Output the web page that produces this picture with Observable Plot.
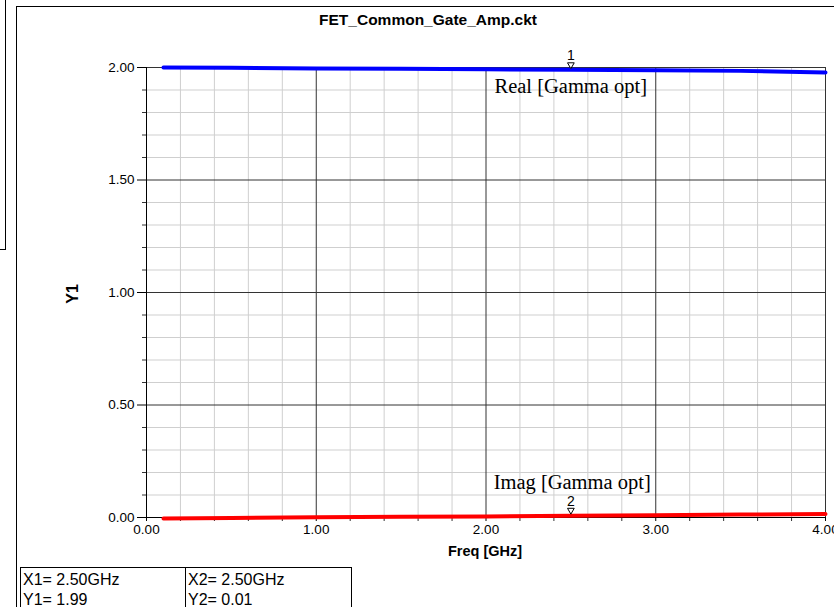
<!DOCTYPE html>
<html>
<head>
<meta charset="utf-8">
<script src="https://cdn.jsdelivr.net/npm/d3@7"></script>
<script src="https://cdn.jsdelivr.net/npm/@observablehq/plot@0.6"></script>
<style>
  html, body { margin: 0; padding: 0; background: #fff; }
  #wrap { position: relative; width: 834px; height: 607px; overflow: hidden; font-family: "Liberation Sans", Arial, sans-serif; }
  #chart { position: absolute; left: 0; top: 0; }
  .abs { position: absolute; }
  #title { left: 428px; top: 20px; transform: translate(-50%, -50%); white-space: nowrap; font-weight: bold; font-size: 15.5px; }
  #ylab { left: 73px; top: 294px; transform: translate(-50%, -50%) rotate(-90deg); font-weight: bold; font-size: 16px; }
  #xlab { left: 485px; top: 551px; transform: translate(-50%, -50%); white-space: nowrap; font-weight: bold; font-size: 14.5px; }
  #table { left: 20px; top: 567px; border: 1px solid #000; border-bottom: none; display: flex; font-size: 16px; background: #fff; }
  #table div.col { padding: 2px 2px 0 2px; line-height: 20px; height: 60px; }
  #table div.c1 { width: 160px; border-right: 1px solid #000; }
  #table div.c2 { width: 161px; }
</style>
</head>
<body>
<div id="wrap">
  <div id="chart"></div>
  <div class="abs" style="left:0;top:0;width:5px;height:249px;border-right:1px solid #000;border-bottom:1px solid #000;"></div>
  <div class="abs" style="left:16px;top:6px;width:830px;height:620px;border-left:1px solid #000;border-top:1px solid #000;"></div>
  <div class="abs" id="title">FET_Common_Gate_Amp.ckt</div>
  <div class="abs" id="ylab">Y1</div>
  <div class="abs" id="xlab">Freq [GHz]</div>
  <div class="abs" id="table">
    <div class="col c1"><div>X1= 2.50GHz</div><div>Y1= 1.99</div></div>
    <div class="col c2"><div>X2= 2.50GHz</div><div>Y2= 0.01</div></div>
  </div>
</div>
<script>
// ---- data ----
const freq = [0.1, 0.5, 1.0, 1.5, 2.0, 2.5, 3.0, 3.5, 4.0];
const realGamma = [2.000, 1.999, 1.996, 1.994, 1.992, 1.990, 1.988, 1.985, 1.978];
const imagGamma = [-0.004, -0.002, 0.001, 0.003, 0.005, 0.008, 0.010, 0.013, 0.016];

const xMajorTicks = [0, 1, 2, 3, 4];
const xMinorTicks = [0.2, 0.4, 0.6, 0.8, 1.2, 1.4, 1.6, 1.8, 2.2, 2.4, 2.6, 2.8, 3.2, 3.4, 3.6, 3.8];
const yMajorTicks = [0, 0.5, 1.0, 1.5, 2.0];
const yMinorTicks = [0.1, 0.2, 0.3, 0.4, 0.6, 0.7, 0.8, 0.9, 1.1, 1.2, 1.3, 1.4, 1.6, 1.7, 1.8, 1.9];

const markerNames = ["1", "2"];
const markerFreq = [2.5, 2.5];
const markerValues = [1.99, 0.01];

const traceLabels = ["Real [Gamma opt]", "Imag [Gamma opt]"];
const traceLabelX = [2.05, 2.045];
const traceLabelY = [1.915, 0.158];

// ---- tables built from arrays ----
const realData = freq.map((f, i) => ({f, v: realGamma[i]}));
const imagData = freq.map((f, i) => ({f, v: imagGamma[i]}));
const markers = markerNames.map((n, i) => ({n, f: markerFreq[i], v: markerValues[i]}));
const labels = traceLabels.map((t, i) => ({t, f: traceLabelX[i], v: traceLabelY[i]}));

const fmt = d => d.toFixed(2);

const chart = Plot.plot({
  width: 834,
  height: 607,
  marginLeft: 146,
  marginRight: 9,
  marginTop: 67,
  marginBottom: 90,
  style: { fontFamily: "'Liberation Sans', Arial, sans-serif", fontSize: "13px", background: "transparent", overflow: "visible" },
  x: { domain: [0, 4] },
  y: { domain: [0, 2] },
  marks: [
    Plot.ruleX(xMinorTicks, { stroke: "#cfcfcf", strokeWidth: 1 }),
    Plot.ruleY(yMinorTicks, { stroke: "#cfcfcf", strokeWidth: 1 }),
    Plot.ruleX(xMajorTicks, { stroke: "#333", strokeWidth: 1 }),
    Plot.ruleY(yMajorTicks, { stroke: "#333", strokeWidth: 1 }),
    Plot.axisY(yMajorTicks, { tickSize: 9, tickPadding: 3, tickFormat: fmt, label: null, fontSize: 13.5, stroke: "#000", fill: "#000" }),
    Plot.axisY(yMinorTicks, { tickSize: 4, tickFormat: () => "", label: null, stroke: "#333" }),
    Plot.axisX(xMajorTicks, { tickSize: 4, tickPadding: 3, tickFormat: fmt, label: null, fontSize: 13.5, stroke: "#000", fill: "#000" }),
    Plot.axisX(xMinorTicks, { tickSize: 4, tickFormat: () => "", label: null, stroke: "#333" }),
    Plot.ruleX([0], { stroke: "#000" }),
    Plot.ruleY([0], { stroke: "#000" }),
    Plot.line(realData, { x: "f", y: "v", stroke: "#0000ff", strokeWidth: 4, curve: "linear" }),
    Plot.line(imagData, { x: "f", y: "v", stroke: "#ff0000", strokeWidth: 4, curve: "linear" }),
    Plot.text(labels, { x: "f", y: "v", text: "t", textAnchor: "start", fontSize: 20.5, fontFamily: "'Liberation Serif', 'Times New Roman', serif", fill: "#000" }),
    Plot.text(markers, { x: "f", y: "v", text: "n", dy: -14, fontSize: 14, fill: "#000" }),
    Plot.dot(markers, { x: "f", y: "v", symbol: "triangle", rotate: 180, r: 2.5, dy: -5, fill: "#fff", stroke: "#000", strokeWidth: 1 })
  ]
});
document.getElementById("chart").appendChild(chart);
</script>
</body>
</html>
